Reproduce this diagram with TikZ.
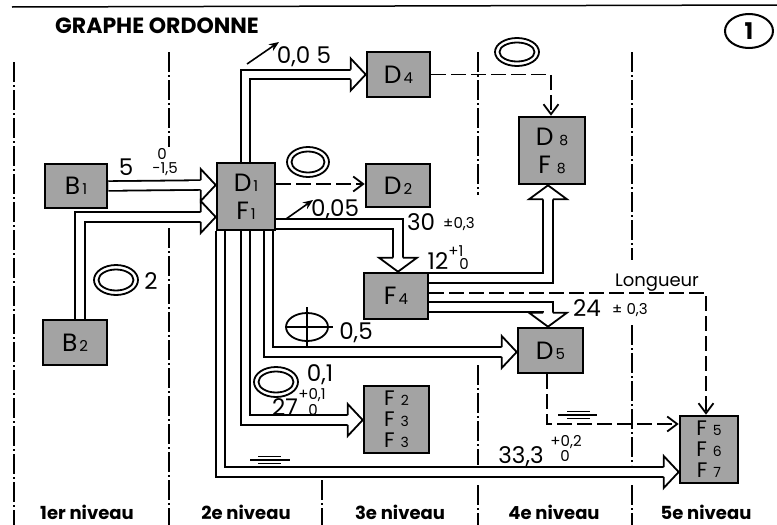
\documentclass[tikz,border=0pt]{standalone}
\usepackage{fontspec}
\setmainfont{Poppins}
\usetikzlibrary{arrows.meta,calc}
\newcommand\myfs[1]{\fontsize{#1}{#1}\selectfont}
\begin{document}
\begin{tikzpicture}[x=1pt,y=-1pt,
  gbox/.style={draw=black,line width=2.6pt,fill=black!36,inner sep=0pt,align=center},
  dbl/.style={draw=black,line width=1.8pt,double=white,double distance=7.8pt,line join=miter},
  dashedarrow/.style={line width=1.8pt,dash pattern=on 15pt off 5pt,-{Straight Barb[length=10pt,width=15pt]}},
  lvl/.style={line width=1.5pt,dash pattern=on 20pt off 3pt on 2pt off 3pt},
  lbl/.style={inner sep=0pt,font=\myfs{23}},
  tol/.style={inner sep=0pt,font=\myfs{15}},
  ring/.style={line width=1.8pt},
  symline/.style={line width=1.6pt},
  lev/.style={inner sep=0pt,font=\bfseries\myfs{18}},
  headR/.pic={\filldraw[fill=white,line width=1.8pt,line join=miter] (-15,-4.8) -- (-15,-16) -- (0,0) -- (-15,16) -- (-15,4.8);},
  headD/.pic={\filldraw[fill=white,line width=1.8pt,line join=miter] (-4.8,-14) -- (-19,-14) -- (0,0) -- (19,-14) -- (4.8,-14);},
  headU/.pic={\filldraw[fill=white,line width=1.8pt,line join=miter] (-4.8,14) -- (-19,14) -- (0,0) -- (19,14) -- (4.8,14);},
]
\useasboundingbox (0,0) rectangle (777,525);

% top rule, title, circled number
\draw[line width=1.5pt] (12,7) -- (777,5);
\node[font=\bfseries\myfs{22},inner sep=0pt,anchor=west] (title) at (55,26) {GRAPHE ORDONNE};
\draw[line width=2pt] (749,31) ellipse [x radius=24pt,y radius=17pt];
\node[font=\bfseries\myfs{23},inner sep=0pt] (num) at (749,31) {1};

% level dividers
\draw[lvl] (14,62) -- (14,525);
\draw[lvl] (169,52) -- (169,147);
\draw[lvl] (169,228) -- (169,525);
\draw[lvl] (322,480) -- (322,525);
\draw[lvl] (478,52) -- (478,195);
\draw[lvl] (478,365) -- (478,465);
\draw[lvl] (478,485) -- (478,525);
\draw[lvl] (632,52) -- (632,260);
\draw[lvl] (632,325) -- (632,465);
\draw[lvl] (632,485) -- (632,525);

% level labels
\node[lev] (lv1) at (87,512) {1er niveau};
\node[lev] (lv2) at (246,512) {2e niveau};
\node[lev] (lv3) at (400,512) {3e niveau};
\node[lev] (lv4) at (554,512) {4e niveau};
\node[lev] (lv5) at (706,512) {5e niveau};

% boxes
\node[gbox,minimum width=62pt,minimum height=44pt,font=\myfs{25}] (b1) at (76,186) {B\hspace{2pt}{\myfs{15}1}};
\node[gbox,minimum width=64pt,minimum height=45pt,font=\myfs{25}] (b2) at (75,342.5) {B\hspace{2pt}{\myfs{15}2}};
\node[gbox,minimum width=58pt,minimum height=67pt,font=\fontsize{25}{28}\selectfont] (d1) at (246,196.5) {D\hspace{2pt}{\myfs{15}1}\\F\hspace{2pt}{\myfs{15}1}};
\node[gbox,minimum width=63pt,minimum height=45pt,font=\myfs{25}] (d4) at (398.5,74.5) {D\hspace{2pt}{\myfs{15}4}};
\node[gbox,minimum width=64pt,minimum height=43pt,font=\myfs{25}] (d2) at (398,185.5) {D\hspace{2pt}{\myfs{15}2}};
\node[gbox,minimum width=66pt,minimum height=67pt,font=\fontsize{25}{28}\selectfont] (d8) at (552,150.5) {D\hspace{6pt}{\myfs{14}8}\\F\hspace{6pt}{\myfs{14}8}};
\node[gbox,minimum width=64pt,minimum height=46pt,font=\myfs{25}] (f4) at (396,296) {F\hspace{2pt}{\myfs{15}4}};
\node[gbox,minimum width=65pt,minimum height=45pt,font=\myfs{25}] (d5) at (550.5,350.5) {D\hspace{2pt}{\myfs{15}5}};
\node[gbox,minimum width=65pt,minimum height=67pt,font=\fontsize{21}{21}\selectfont] (f2) at (396.5,419.5) {F\hspace{6pt}{\myfs{14}2}\\F\hspace{6pt}{\myfs{14}3}\\F\hspace{6pt}{\myfs{14}3}};
\node[gbox,minimum width=58pt,minimum height=67pt,font=\fontsize{21}{21}\selectfont] (f5) at (709,449.5) {F\hspace{6pt}{\myfs{14}5}\\F\hspace{6pt}{\myfs{14}6}\\F\hspace{6pt}{\myfs{14}7}};

% double (hollow) arrows
\draw[dbl] (b1.east) -- ($(d1.west)+(-13,-11.5)$);
\pic at ($(d1.west)+(0,-11.5)$) {headR};
\draw[dbl] ($(b2.north)+(5,0)$) |- ($(d1.west)+(-13,20.5)$);
\pic at ($(d1.west)+(0,20.5)$) {headR};
\draw[dbl] ($(d1.north)+(-0.5,0)$) |- ($(d4.west)+(-13,0)$);
\pic at (d4.west) {headR};
\draw[dbl] ($(d1.east)+(0,27.5)$) -| ($(f4.north)+(2,-12)$);
\pic at ($(f4.north)+(2,0)$) {headD};
\draw[dbl] ($(f4.east)+(0,-18)$) -| ($(d8.south)+(-4,12)$);
\pic at ($(d8.south)+(-4,0)$) {headU};
\draw[dbl] ($(f4.east)+(0,11)$) -| ($(d5.north)+(-2.5,-12)$);
\pic at ($(d5.north)+(-2.5,0)$) {headD};
\draw[dbl] ($(d1.south)+(22.5,0)$) |- ($(d5.west)+(-13,1.5)$);
\pic at ($(d5.west)+(0,1.5)$) {headR};
\draw[dbl] ($(d1.south)+(-0.5,0)$) |- ($(f2.west)+(-13,0.5)$);
\pic at ($(f2.west)+(0,0.5)$) {headR};
\draw[dbl] ($(d1.south)+(-25.5,0)$) |- ($(f5.west)+(-13,22.5)$);
\pic at ($(f5.west)+(0,22.5)$) {headR};

% dashed arrows
\draw[dashedarrow] ($(d1.east)+(0,-12.5)$) -- ($(d2.west)+(0,-1.5)$);
\draw[dashedarrow] (d4.east) -| ($(d8.north)+(-1,0)$);
\draw[dashedarrow] ($(f4.east)+(0,-3)$) -| ($(f5.north)+(-3,0)$);
\draw[dashedarrow] ($(d5.south)+(-3.5,0)$) |- ($(f5.west)+(0,-25.5)$);

% double ellipses
\draw[ring] (308,162) ellipse [x radius=21pt,y radius=15pt];
\draw[ring] (308,162) ellipse [x radius=16.5pt,y radius=10.5pt];
\draw[ring] (517,52) ellipse [x radius=22pt,y radius=14pt];
\draw[ring] (517,52) ellipse [x radius=17.5pt,y radius=9.5pt];
\draw[ring] (116,280) ellipse [x radius=22pt,y radius=15pt];
\draw[ring] (116,280) ellipse [x radius=17.5pt,y radius=10.5pt];
\draw[ring] (276,382) ellipse [x radius=22pt,y radius=15pt];
\draw[ring] (276,382) ellipse [x radius=17.5pt,y radius=10.5pt];

% position symbol
\draw[ring] (307,327) ellipse [x radius=21pt,y radius=14pt];
\draw[ring] (285,327) -- (333,327);
\draw[ring] (307,307) -- (307,348);

% symmetry symbols
\draw[symline] (250,460) -- (290,460);
\draw[symline] (258,456.5) -- (281,456.5);
\draw[symline] (258,463.5) -- (281,463.5);
\draw[symline] (558,415) -- (597,415);
\draw[symline] (567,411.5) -- (590,411.5);
\draw[symline] (567,418.5) -- (590,418.5);

% runout arrows
\draw[line width=1.6pt,-{Stealth[length=10pt,width=8pt]}] (247,64) -- (279,42);
\draw[line width=1.6pt,-{Stealth[length=10pt,width=8pt]}] (286,219) -- (313,200);

% labels
\node[lbl] (l5) at (126,167) {5};
\node[tol] (l5a) at (165,169) {-1,5};
\node[tol] (l5b) at (162,154) {0};
\node[lbl] (l2) at (151,281) {2};
\node[lbl] (l005a) at (304,57) {0,0 5};
\node[lbl] (l005b) at (335,210) {0,05};
\node[lbl] (l30) at (421,222) {30};
\node[tol] (l30t) at (459,224) {±0,3};
\node[lbl] (l12) at (438,261) {12};
\node[tol] (l12a) at (456,251) {+1};
\node[tol] (l12b) at (464,264) {0};
\node[inner sep=0pt,font=\myfs{18}] (long) at (657,283) {Longueur};
\node[lbl] (l24) at (587,308) {24};
\node[tol] (l24t) at (630,310) {± 0,3};
\node[lbl] (l05) at (356,333) {0,5};
\node[lbl] (l01) at (320,375) {0,1};
\node[lbl] (l27) at (285,407) {27};
\node[tol] (l27a) at (312,395) {+0,1};
\node[tol] (l27b) at (313,410) {0};
\node[lbl] (l333) at (521,457) {33,3};
\node[tol] (l333a) at (566,442) {+0,2};
\node[tol] (l333b) at (565,456) {0};
\end{tikzpicture}
\end{document}
